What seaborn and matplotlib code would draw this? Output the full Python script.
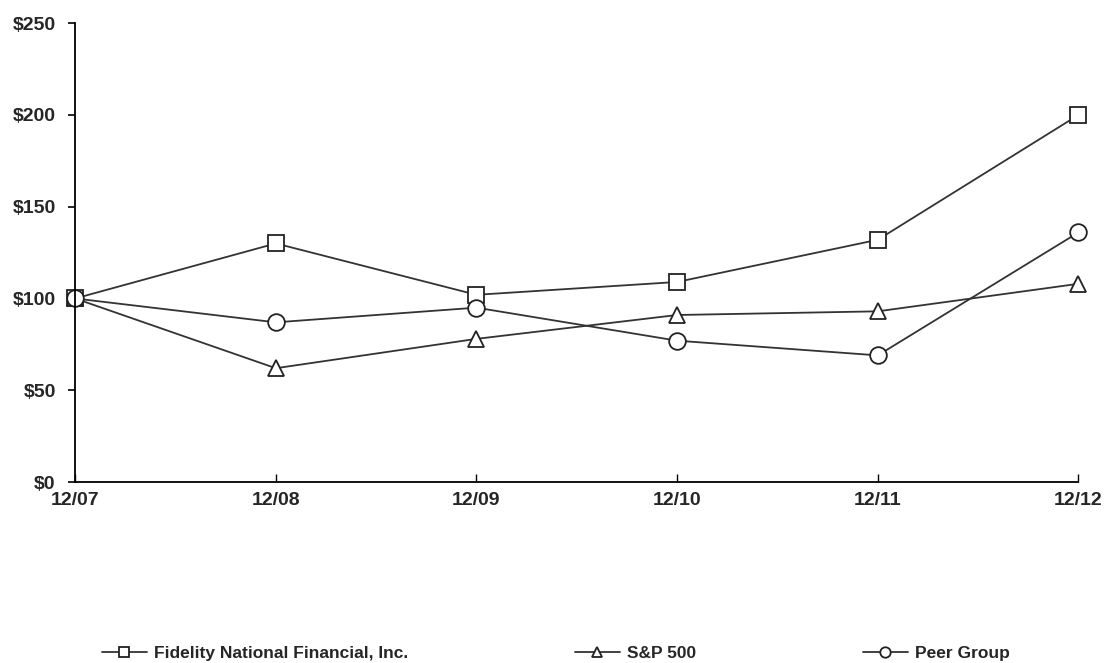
import matplotlib
matplotlib.use("Agg")
import matplotlib.pyplot as plt
import seaborn as sns

years = ["12/07", "12/08", "12/09", "12/10", "12/11", "12/12"]
fidelity = [100, 130, 102, 109, 132, 200]
sp500 = [100, 62, 78, 91, 93, 108]
peer_group = [100, 87, 95, 77, 69, 136]

series = [
    ("Fidelity National Financial, Inc.", fidelity, "s"),
    ("S&P 500", sp500, "^"),
    ("Peer Group", peer_group, "o"),
]

sns.set_style("white")
plt.rcParams["font.family"] = ["Liberation Sans", "DejaVu Sans"]
plt.rcParams["font.weight"] = "bold"

fig = plt.figure(figsize=(11.05, 6.63), dpi=100)
ax = fig.add_axes([0.068, 0.273, 0.908, 0.692])

xpos = list(range(len(years)))
for name, vals, mk in series:
    sns.lineplot(x=xpos, y=vals, ax=ax, color="#333333", linewidth=1.3,
                 marker=mk, markersize=12, markerfacecolor="white",
                 markeredgecolor="#222222", markeredgewidth=1.3,
                 label=name, clip_on=False)

ax.set_xlim(0, 5)
ax.set_ylim(0, 250)
ax.set_xticks(xpos)
ax.set_xticklabels(years, fontsize=14, fontweight="bold")
ax.set_yticks([0, 50, 100, 150, 200, 250])
ax.set_yticklabels(["$0", "$50", "$100", "$150", "$200", "$250"],
                   fontsize=14, fontweight="bold")
sns.despine(ax=ax)
for s in ["left", "bottom"]:
    ax.spines[s].set_color("black")
    ax.spines[s].set_linewidth(1.3)
ax.tick_params(axis="y", left=True, direction="out", length=5, width=1.2,
               color="black", pad=9)
ax.tick_params(axis="x", bottom=True, direction="in", length=6, width=1,
               color="black", pad=7)
ax.set_xlabel("")
ax.set_ylabel("")

ax.get_legend().remove()
handles, labels = ax.get_legend_handles_labels()
leg = fig.legend(handles, labels, loc="lower center", bbox_to_anchor=(0.503, -0.02),
                 ncol=3, frameon=False, columnspacing=9.6,
                 handlelength=2.6, handletextpad=0.4,
                 prop={"weight": "bold", "size": 12.5})
for h in leg.legend_handles:
    h.set_markersize(7.5)

fig.savefig("out.png", dpi=100)
